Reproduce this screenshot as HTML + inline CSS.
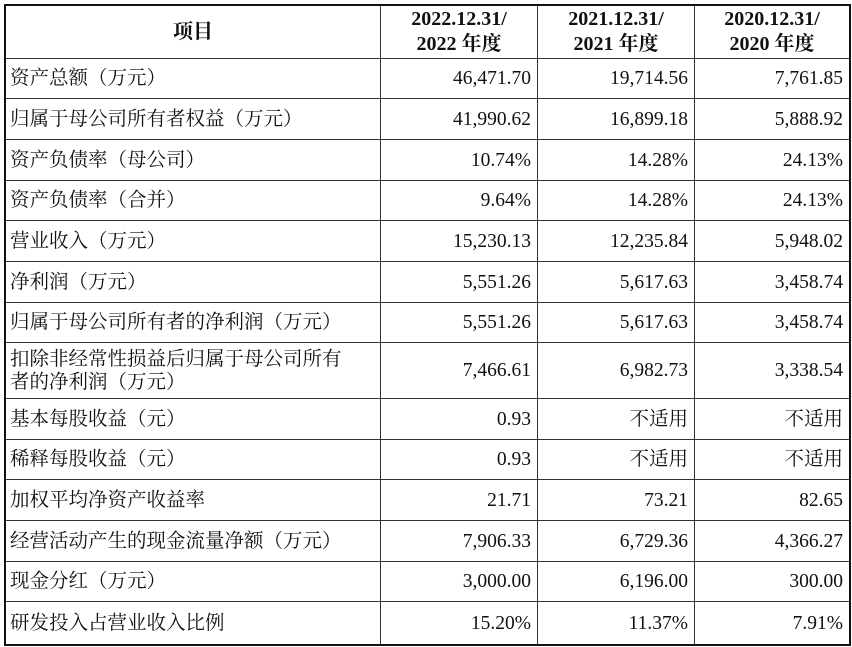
<!DOCTYPE html>
<html><head><meta charset="utf-8"><style>
body{margin:0;width:852px;height:647px;background:#fff;position:relative;overflow:hidden;font-family:"Liberation Serif","Noto Serif CJK SC",serif;color:#111}
#tbl{position:absolute;left:4px;top:4px;width:843px;height:638px;border:2px solid #111;box-sizing:content-box}
.c{position:absolute;box-sizing:border-box;display:flex;align-items:center;font-size:19.5px;line-height:23px;border-right:1px solid #333;border-bottom:1px solid #333}
.l{justify-content:flex-start;padding-left:4px}
.r{justify-content:flex-end;padding-right:6px}
.h{justify-content:center;text-align:center;font-weight:bold;font-size:20px;line-height:25px}
</style></head><body>
<div id="tbl"></div>
<script>
const tbl=document.getElementById('tbl');
const cols=[0,375,532,689,843];
const heads=['项目','2022.12.31/<br>2022 年度','2021.12.31/<br>2021 年度','2020.12.31/<br>2020 年度'];
const labels=['资产总额（万元）','归属于母公司所有者权益（万元）','资产负债率（母公司）','资产负债率（合并）','营业收入（万元）','净利润（万元）','归属于母公司所有者的净利润（万元）','扣除非经常性损益后归属于母公司所有<br>者的净利润（万元）','基本每股收益（元）','稀释每股收益（元）','加权平均净资产收益率','经营活动产生的现金流量净额（万元）','现金分红（万元）','研发投入占营业收入比例'];
const v2022=['46,471.70','41,990.62','10.74%','9.64%','15,230.13','5,551.26','5,551.26','7,466.61','0.93','0.93','21.71','7,906.33','3,000.00','15.20%'];
const v2021=['19,714.56','16,899.18','14.28%','14.28%','12,235.84','5,617.63','5,617.63','6,982.73','不适用','不适用','73.21','6,729.36','6,196.00','11.37%'];
const v2020=['7,761.85','5,888.92','24.13%','24.13%','5,948.02','3,458.74','3,458.74','3,338.54','不适用','不适用','82.65','4,366.27','300.00','7.91%'];
const rows=[0,53,93,134,175,215,256,297,337,393,434,474,515,556,596,638];
function cell(x0,x1,y0,y1,html,cls,name){
  const d=document.createElement('div');
  d.className='c '+cls;
  d.style.left=x0+'px';d.style.top=y0+'px';d.style.width=(x1-x0)+'px';d.style.height=(y1-y0)+'px';
  if(x1===843)d.style.borderRight='none';
  if(y1===638)d.style.borderBottom='none';
  d.innerHTML=html;
  
  
  tbl.appendChild(d);
}
heads.forEach((h,i)=>cell(cols[i],cols[i+1],rows[0],rows[1],h,'h','header-cell'));
labels.forEach((lab,i)=>{
  const y0=rows[i+1],y1=rows[i+2];
  cell(cols[0],cols[1],y0,y1,lab,'l','row-label');
  cell(cols[1],cols[2],y0,y1,v2022[i],'r','value-2022');
  cell(cols[2],cols[3],y0,y1,v2021[i],'r','value-2021');
  cell(cols[3],cols[4],y0,y1,v2020[i],'r','value-2020');
});
</script>
</body></html>
